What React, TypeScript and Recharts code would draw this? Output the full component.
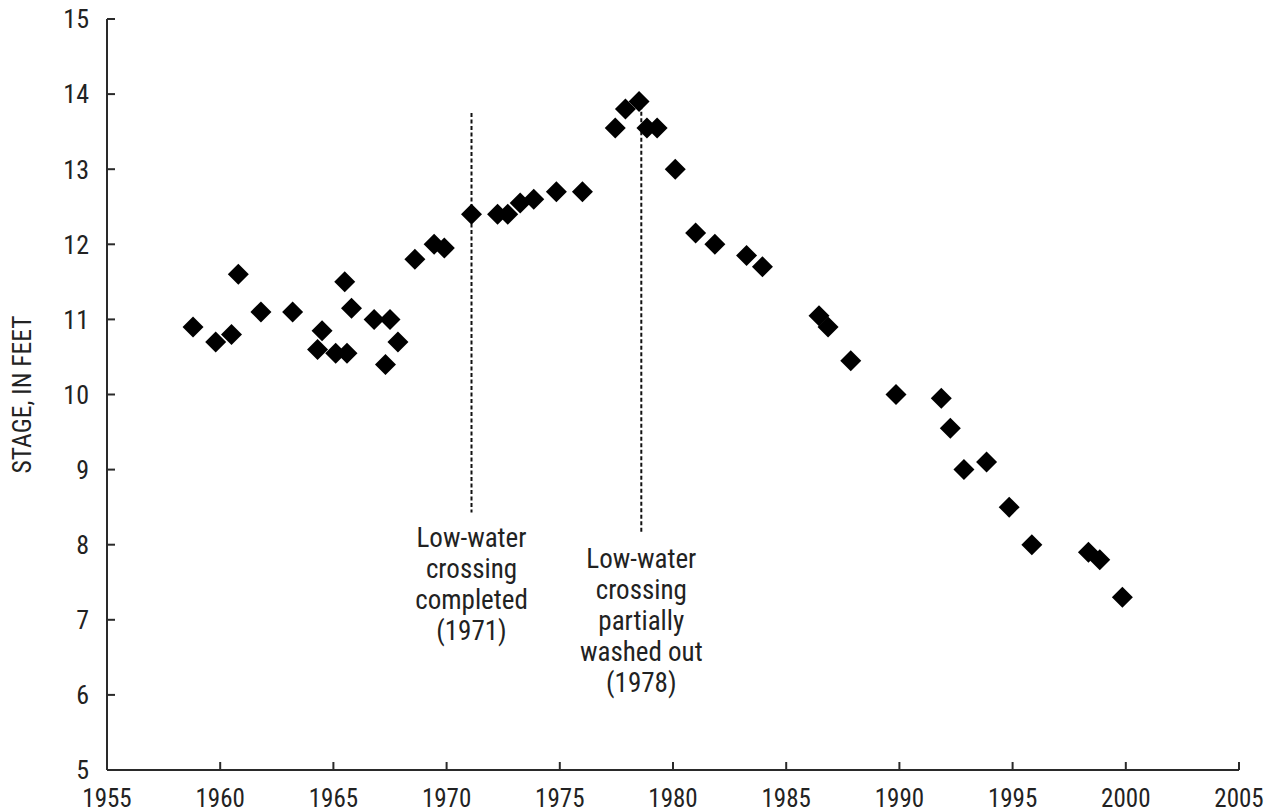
import React from 'react';
import { ScatterChart, Scatter, XAxis, YAxis, ReferenceLine } from 'recharts';

const years = [1958.8, 1959.8, 1960.5, 1960.8, 1961.8, 1963.2, 1964.5, 1964.3, 1965.1, 1965.5, 1965.6, 1965.8, 1966.8, 1967.5, 1967.3, 1967.85, 1968.6, 1969.45, 1969.9, 1971.1, 1972.25, 1972.7, 1973.25, 1973.85, 1974.85, 1976.0, 1977.45, 1977.9, 1978.5, 1978.85, 1979.3, 1980.1, 1981.0, 1981.85, 1983.25, 1983.95, 1986.45, 1986.85, 1987.85, 1989.85, 1991.85, 1992.25, 1992.85, 1993.85, 1994.85, 1995.85, 1998.35, 1998.85, 1999.85];
const stages = [10.9, 10.7, 10.8, 11.6, 11.1, 11.1, 10.85, 10.6, 10.55, 11.5, 10.55, 11.15, 11.0, 11.0, 10.4, 10.7, 11.8, 12.0, 11.95, 12.4, 12.4, 12.4, 12.55, 12.6, 12.7, 12.7, 13.55, 13.8, 13.9, 13.55, 13.55, 13.0, 12.15, 12.0, 11.85, 11.7, 11.05, 10.9, 10.45, 10.0, 9.95, 9.55, 9.0, 9.1, 8.5, 8.0, 7.9, 7.8, 7.3];

const xTicks = [1955, 1960, 1965, 1970, 1975, 1980, 1985, 1990, 1995, 2000, 2005];
const yTicks = [5, 6, 7, 8, 9, 10, 11, 12, 13, 14, 15];

const events = [
  { year: 1971.1, top: 13.75, bottom: 8.43, lines: ['Low-water', 'crossing', 'completed', '(1971)'] },
  { year: 1978.6, top: 13.85, bottom: 8.15, lines: ['Low-water', 'crossing', 'partially', 'washed out', '(1978)'] },
];

const data = years.map((y, i) => ({ year: y, stage: stages[i] }));

const FONT = "'Liberation Sans Narrow', 'Arial Narrow', 'Roboto Condensed', 'Liberation Sans', sans-serif";
const INK = '#222';
const AXIS = '#2a2a2a';

const Diamond = (props: any) => {
  const { cx, cy } = props;
  const r = 10.5;
  return <polygon points={`${cx},${cy - r} ${cx + r},${cy} ${cx},${cy + r} ${cx - r},${cy}`} fill="#000" />;
};

const BottomTick = (props: any) => {
  const { x, y, payload } = props;
  return (
    <g>
      <line x1={x} x2={x} y1={y} y2={y - 8} stroke={AXIS} strokeWidth={2} />
      <text x={x} y={y + 37} textAnchor="middle" fontFamily={FONT} fontSize={25} fill={INK}>{payload.value}</text>
    </g>
  );
};
const TopTick = (props: any) => {
  const { x, y } = props;
  return <line x1={x} x2={x} y1={y} y2={y + 8} stroke={AXIS} strokeWidth={2} />;
};
const LeftTick = (props: any) => {
  const { x, y, payload } = props;
  return (
    <g>
      <line x1={x} x2={x + 8} y1={y} y2={y} stroke={AXIS} strokeWidth={2} />
      <text x={x - 18} y={y} dy="0.36em" textAnchor="end" fontFamily={FONT} fontSize={26} fill={INK}>{payload.value}</text>
    </g>
  );
};
const RightTick = (props: any) => {
  const { x, y } = props;
  return <line x1={x} x2={x - 8} y1={y} y2={y} stroke={AXIS} strokeWidth={2} />;
};

const YLabel = (p: any) => {
  const vb = p.viewBox || {};
  const cy = vb.y + vb.height / 2;
  const cx = 22;
  return (
    <text x={cx} y={cy} transform={`rotate(-90 ${cx} ${cy})`} textAnchor="middle" dy="0.36em" fontFamily={FONT} fontSize={25.5} fill={INK}>
      STAGE, IN FEET
    </text>
  );
};

const makeAnnot = (lines: string[]) => (p: any) => {
  const vb = p.viewBox || {};
  const cx = vb.x;
  const base = vb.y + vb.height + 35;
  return (
    <text textAnchor="middle" fontFamily={FONT} fontSize={27} fill={INK}>
      {lines.map((l, i) => (
        <tspan key={i} x={cx} y={base + i * 31}>{l}</tspan>
      ))}
    </text>
  );
};

export default function App() {
  return (
    <div style={{ position: 'absolute', left: 0, top: 0, background: '#fff' }}>
      <ScatterChart width={1271} height={812} margin={{ top: 19, right: 32, bottom: 0, left: 0 }}>
        <XAxis
          dataKey="year"
          type="number"
          domain={[1955, 2005]}
          ticks={xTicks}
          interval={0}
          allowDataOverflow
          height={42}
          tickSize={0}
          tickMargin={0}
          tickLine={false}
          tick={<BottomTick />}
          stroke={AXIS}
          strokeWidth={2}
        />
        <XAxis
          xAxisId="top"
          orientation="top"
          type="number"
          domain={[1955, 2005]}
          ticks={xTicks}
          interval={0}
          allowDataOverflow
          height={0}
          tickSize={0}
          tickMargin={0}
          tickLine={false}
          tick={<TopTick />}
          stroke={AXIS}
          strokeWidth={2}
        />
        <YAxis
          dataKey="stage"
          type="number"
          domain={[5, 15]}
          ticks={yTicks}
          interval={0}
          allowDataOverflow
          width={107}
          tickSize={0}
          tickMargin={0}
          tickLine={false}
          tick={<LeftTick />}
          stroke={AXIS}
          strokeWidth={2}
          label={{ content: YLabel } as any}
        />
        <YAxis
          yAxisId="right"
          orientation="right"
          type="number"
          domain={[5, 15]}
          ticks={yTicks}
          interval={0}
          allowDataOverflow
          width={0}
          tickSize={0}
          tickMargin={0}
          tickLine={false}
          tick={<RightTick />}
          stroke={AXIS}
          strokeWidth={2}
        />
        {events.map((e, i) => (
          <ReferenceLine
            key={i}
            segment={[{ x: e.year, y: e.top }, { x: e.year, y: e.bottom }]}
            stroke="#111"
            strokeWidth={2}
            strokeDasharray="4 2.5"
            label={{ content: makeAnnot(e.lines) } as any}
          />
        ))}
        <Scatter data={data} shape={<Diamond />} isAnimationActive={false} />
      </ScatterChart>
    </div>
  );
}
